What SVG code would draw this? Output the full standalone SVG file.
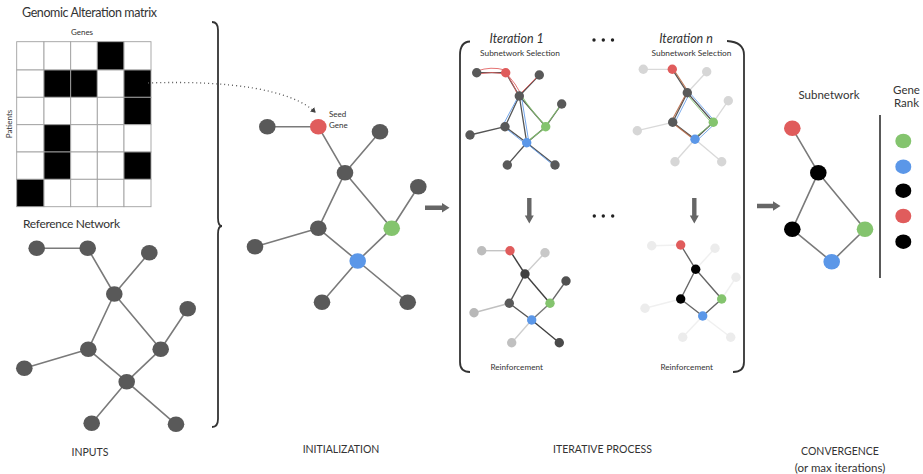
<svg xmlns="http://www.w3.org/2000/svg" width="923" height="474" viewBox="0 0 923 474">
<defs>
<style>
.t{font-family:Lato,"Open Sans","Liberation Sans",sans-serif;fill:#333}
.e{stroke:#7a7a7a;stroke-width:1.6;fill:none;stroke-linecap:round}
.n{fill:#595959}
.red{fill:#e05c5c}.grn{fill:#84c46e}.blu{fill:#5b97e8}.blk{fill:#000}
.lg{fill:#d6d6d6}.vlg{fill:#ececec}
.cell{fill:#fff;stroke:#a0a0a0;stroke-width:0.9}
.on{fill:#000;stroke:#a0a0a0;stroke-width:0.9}
.arr{fill:#666}
.brk{stroke:#333;stroke-width:1.8;fill:none}
</style>
<marker id="dotArr" markerWidth="6" markerHeight="6" refX="4" refY="3" orient="auto" markerUnits="userSpaceOnUse">
<path d="M0,0 L5,3 L0,6 Z" fill="#444"/>
</marker>
</defs>
<rect width="923" height="474" fill="#fff"/>

<!-- INPUTS: matrix -->
<g id="matrix">
<text class="t" x="22" y="17" font-size="12.5" textLength="135">Genomic Alteration matrix</text>
<text class="t" x="82" y="35" font-size="8" text-anchor="middle" fill="#555">Genes</text>
<text class="t" transform="translate(12,124) rotate(-90)" font-size="8" text-anchor="middle">Patients</text>
<g>
<rect class="cell" x="16.7" y="41.7" width="27.3" height="28.3"/><rect class="cell" x="44" y="41.7" width="26.7" height="28.3"/><rect class="cell" x="70.7" y="41.7" width="26.6" height="28.3"/><rect class="on" x="97.3" y="41.7" width="26.7" height="28.3"/><rect class="cell" x="124" y="41.7" width="27" height="28.3"/>
<rect class="cell" x="16.7" y="70" width="27.3" height="27.3"/><rect class="on" x="44" y="70" width="26.7" height="27.3"/><rect class="on" x="70.7" y="70" width="26.6" height="27.3"/><rect class="cell" x="97.3" y="70" width="26.7" height="27.3"/><rect class="on" x="124" y="70" width="27" height="27.3"/>
<rect class="cell" x="16.7" y="97.3" width="27.3" height="27.4"/><rect class="cell" x="44" y="97.3" width="26.7" height="27.4"/><rect class="cell" x="70.7" y="97.3" width="26.6" height="27.4"/><rect class="cell" x="97.3" y="97.3" width="26.7" height="27.4"/><rect class="on" x="124" y="97.3" width="27" height="27.4"/>
<rect class="cell" x="16.7" y="124.7" width="27.3" height="27.3"/><rect class="on" x="44" y="124.7" width="26.7" height="27.3"/><rect class="cell" x="70.7" y="124.7" width="26.6" height="27.3"/><rect class="cell" x="97.3" y="124.7" width="26.7" height="27.3"/><rect class="cell" x="124" y="124.7" width="27" height="27.3"/>
<rect class="cell" x="16.7" y="152" width="27.3" height="27.3"/><rect class="on" x="44" y="152" width="26.7" height="27.3"/><rect class="cell" x="70.7" y="152" width="26.6" height="27.3"/><rect class="cell" x="97.3" y="152" width="26.7" height="27.3"/><rect class="on" x="124" y="152" width="27" height="27.3"/>
<rect class="on" x="16.7" y="179.3" width="27.3" height="27.4"/><rect class="cell" x="44" y="179.3" width="26.7" height="27.4"/><rect class="cell" x="70.7" y="179.3" width="26.6" height="27.4"/><rect class="cell" x="97.3" y="179.3" width="26.7" height="27.4"/><rect class="cell" x="124" y="179.3" width="27" height="27.4"/>
</g>
</g>

<!-- Reference network -->
<text class="t" x="23" y="228" font-size="12" textLength="97">Reference Network</text>
<g id="ref-connectors">
<path class="e" d="M36.7,248.3 L87.7,248.3 M87.7,248.3 L114.3,294 M149.3,252.7 L114.3,294 M114.3,294 L88.3,349.3 M114.3,294 L160.7,349.3 M187.7,308.7 L160.7,349.3 M88.3,349.3 L24.3,368.3 M88.3,349.3 L126.7,381.7 M160.7,349.3 L126.7,381.7 M126.7,381.7 L91.7,423.3 M126.7,381.7 L176,424.3"/>
</g>
<g id="ref-nodes" class="n">
<g id="ref-a"><ellipse cx="36.7" cy="248.3" rx="8.3" ry="7.7"/></g>
<g id="ref-b"><ellipse cx="87.7" cy="248.3" rx="8.3" ry="7.7"/></g>
<g id="ref-c"><ellipse cx="149.3" cy="252.7" rx="8.3" ry="7.7"/></g>
<g id="ref-d"><ellipse cx="114.3" cy="294" rx="8.3" ry="7.7"/></g>
<g id="ref-e"><ellipse cx="187.7" cy="308.7" rx="8.3" ry="7.7"/></g>
<g id="ref-f"><ellipse cx="88.3" cy="349.3" rx="8.3" ry="7.7"/></g>
<g id="ref-g"><ellipse cx="160.7" cy="349.3" rx="8.3" ry="7.7"/></g>
<g id="ref-h"><ellipse cx="24.3" cy="368.3" rx="8.3" ry="7.7"/></g>
<g id="ref-i"><ellipse cx="126.7" cy="381.7" rx="8.3" ry="7.7"/></g>
<g id="ref-j"><ellipse cx="91.7" cy="423.3" rx="8.3" ry="7.7"/></g>
<g id="ref-k"><ellipse cx="176" cy="424.3" rx="8.3" ry="7.7"/></g>
</g>
<text class="t" x="90" y="455.5" font-size="10.5" text-anchor="middle">INPUTS</text>

<!-- brace -->
<path class="brk" d="M212,22 Q218,22 218,30 L218,218 Q218,226 222,226 Q218,226 218,234 L218,419 Q218,427 212,427"/>

<!-- Initialization -->
<g id="init-connectors">
<path class="e" d="M267.3,126.7 L318.3,126.7 M318.3,126.7 L345,172.7 M380,131.7 L345,172.7 M345,172.7 L318.3,228.3 M345,172.7 L391.7,228.3 M418.3,186.7 L391.7,228.3 M318.3,228.3 L255,246.7 M318.3,228.3 L357.7,261 M391.7,228.3 L357.7,261 M357.7,261 L322,302.3 M357.7,261 L407.7,302.3"/>
<path d="M148,83 C230,80 292,90 315,112" fill="none" stroke="#555" stroke-width="1.3" stroke-dasharray="1 3" marker-end="url(#dotArr)"/>
</g>
<g id="init-nodes">
<g id="init-a"><ellipse class="n" cx="267.3" cy="126.7" rx="8.3" ry="7.7"/></g>
<g id="init-seed"><ellipse class="red" cx="318.3" cy="126.7" rx="8.3" ry="7.7"/>
<text class="t" x="329" y="117" font-size="8">Seed</text><text class="t" x="329" y="127.5" font-size="8">Gene</text></g>
<g id="init-c"><ellipse class="n" cx="380" cy="131.7" rx="8.3" ry="7.7"/></g>
<g id="init-d"><ellipse class="n" cx="345" cy="172.7" rx="8.3" ry="7.7"/></g>
<g id="init-e"><ellipse class="n" cx="418.3" cy="186.7" rx="8.3" ry="7.7"/></g>
<g id="init-f"><ellipse class="n" cx="318.3" cy="228.3" rx="8.3" ry="7.7"/></g>
<g id="init-g"><ellipse class="grn" cx="391.7" cy="228.3" rx="8.3" ry="7.7"/></g>
<g id="init-h"><ellipse class="n" cx="255" cy="246.7" rx="8.3" ry="7.7"/></g>
<g id="init-i"><ellipse class="blu" cx="357.7" cy="261" rx="8.3" ry="7.7"/></g>
<g id="init-j"><ellipse class="n" cx="322" cy="302.3" rx="8.3" ry="7.7"/></g>
<g id="init-k"><ellipse class="n" cx="407.7" cy="302.3" rx="8.3" ry="7.7"/></g>
</g>
<text class="t" x="341" y="453" font-size="10.5" text-anchor="middle">INITIALIZATION</text>

<!-- arrows -->
<g id="arrows">
<path class="arr" d="M425,205.5 L442,205.5 L442,203 L449.5,207.7 L442,212.4 L442,209.9 L425,209.9 Z"/>
<path class="arr" d="M757,203.8 L773,203.8 L773,201.3 L780.5,206 L773,210.7 L773,208.2 L757,208.2 Z"/>
<path class="arr" d="M527.1,198 L527.1,215.5 L524.8,215.5 L529.3,223.5 L533.8,215.5 L531.5,215.5 L531.5,198 Z"/>
<path class="arr" d="M692.1,198 L692.1,215.5 L689.8,215.5 L694.3,223.5 L698.8,215.5 L696.5,215.5 L696.5,198 Z"/>
</g>

<!-- iterative brackets -->
<path class="brk" d="M470,41.5 Q460,42 460,55 L460,362 Q460,372 470,372"/>
<path class="brk" d="M727,41 Q744,42 744,55 L744,362 Q744,372 733,372"/>
<text class="t" x="516.7" y="42.5" font-size="12.5" font-style="italic" text-anchor="middle">Iteration 1</text>
<text class="t" x="686" y="42.5" font-size="12.5" font-style="italic" text-anchor="middle">Iteration n</text>
<text class="t" x="520" y="56" font-size="8.3" text-anchor="middle">Subnetwork Selection</text>
<text class="t" x="691.5" y="56" font-size="8.3" text-anchor="middle">Subnetwork Selection</text>
<g fill="#222">
<circle cx="594" cy="40" r="1.7"/><circle cx="603.3" cy="40" r="1.7"/><circle cx="612.5" cy="40" r="1.7"/>
<circle cx="594.3" cy="216" r="1.7"/><circle cx="603.3" cy="216" r="1.7"/><circle cx="612.7" cy="216" r="1.7"/>
</g>

<!-- Iteration 1: selection -->
<g id="it1s-connectors">
<path d="M476.7,72.7 L505.7,72.7 M505.7,72.7 L519.3,96 M539.3,75 L519.3,96 M519.3,96 L505,126.7 M519.3,96 L545.7,126.7 M561.7,104 L545.7,126.7 M505,126.7 L470,135 M505,126.7 L526.7,142.7 M545.7,126.7 L526.7,142.7 M526.7,142.7 L507.3,165 M526.7,142.7 L555,165 M519.3,96 L526.7,142.7" stroke="#555" stroke-width="1.3" fill="none"/>
<path d="M477,71 Q491,66 505,70 M477,74 Q492,71 506,74 M504,71 Q514,84 517.5,95 M507,74 Q516,84 521,94 M520,94 L538,76" stroke="#e05c5c" stroke-width="1" fill="none" opacity="0.85"/>
<path d="M517.5,98 L503,125 M506,128.5 L527,145 M528,144.5 L555,166.5 M521.5,97 L528.5,140" stroke="#5b97e8" stroke-width="1" fill="none" opacity="0.85"/>
<path d="M521,95 Q532,112 545,125 M546.5,125 L562.5,102.5 M528,141 L545,128" stroke="#84c46e" stroke-width="1.1" fill="none" opacity="0.9"/>
</g>
<g id="it1s-nodes">
<g id="it1s-a"><circle class="n" cx="476.7" cy="72.7" r="4.7"/></g>
<g id="it1s-r"><circle class="red" cx="505.7" cy="72.7" r="4.7"/></g>
<g id="it1s-c"><circle class="n" cx="539.3" cy="75" r="4.7"/></g>
<g id="it1s-d"><circle class="n" cx="519.3" cy="96" r="4.7"/></g>
<g id="it1s-e"><circle class="n" cx="561.7" cy="104" r="4.7"/></g>
<g id="it1s-f"><circle class="n" cx="505" cy="126.7" r="4.7"/></g>
<g id="it1s-g"><circle class="grn" cx="545.7" cy="126.7" r="4.7"/></g>
<g id="it1s-h"><circle class="n" cx="470" cy="135" r="4.7"/></g>
<g id="it1s-i"><circle class="blu" cx="526.7" cy="142.7" r="4.7"/></g>
<g id="it1s-j"><circle class="n" cx="507.3" cy="165" r="4.7"/></g>
<g id="it1s-k"><circle class="n" cx="555" cy="165" r="4.7"/></g>
</g>

<!-- Iteration n: selection -->
<g id="itns-connectors">
<path d="M643.3,69.3 L672.3,69.3 M706.7,71.7 L687.3,92.7 M728.3,100.7 L713.3,122.3 M672.7,122.3 L637.3,130.7 M695,139.3 L675,161.7 M695,139.3 L721.7,161.7" stroke="#d9d9d9" stroke-width="1.3" fill="none"/>
<path d="M672.3,69.3 L687.3,92.7 M687.3,92.7 L672.7,122.3 M687.3,92.7 L713.3,122.3 M672.7,122.3 L695,139.3 M713.3,122.3 L695,139.3" stroke="#555" stroke-width="1.3" fill="none"/>
<path d="M674,70 L689,93 M686,94 L671.5,121 M674,124 L696,141" stroke="#b5653f" stroke-width="1.1" fill="none" opacity="0.85"/>
<path d="M688.5,91.5 L714.5,121 M689,94.5 L674.5,123 M714.5,124 L696.5,141" stroke="#5b97e8" stroke-width="1" fill="none" opacity="0.8"/>
<path d="M686.5,94 L712,123.5 M712,124 L694,138" stroke="#84c46e" stroke-width="1" fill="none" opacity="0.85"/>
</g>
<g id="itns-nodes">
<g id="itns-a"><circle class="lg" cx="643.3" cy="69.3" r="4.7"/></g>
<g id="itns-r"><circle class="red" cx="672.3" cy="69.3" r="4.7"/></g>
<g id="itns-c"><circle class="lg" cx="706.7" cy="71.7" r="4.7"/></g>
<g id="itns-d"><circle class="n" cx="687.3" cy="92.7" r="4.7"/></g>
<g id="itns-e"><circle class="lg" cx="728.3" cy="100.7" r="4.7"/></g>
<g id="itns-f"><circle class="n" cx="672.7" cy="122.3" r="4.7"/></g>
<g id="itns-g"><circle class="grn" cx="713.3" cy="122.3" r="4.7"/></g>
<g id="itns-h"><circle class="lg" cx="637.3" cy="130.7" r="4.7"/></g>
<g id="itns-i"><circle class="blu" cx="695" cy="139.3" r="4.7"/></g>
<g id="itns-j"><circle class="lg" cx="675" cy="161.7" r="4.7"/></g>
<g id="itns-k"><circle class="lg" cx="721.7" cy="161.7" r="4.7"/></g>
</g>

<!-- Iteration 1: reinforcement -->
<g id="it1r-connectors" stroke-width="1.4" fill="none">
<path d="M481.7,250.7 L510,250.7" stroke="#c4c4c4"/>
<path d="M510,250.7 L525,274" stroke="#404040"/>
<path d="M545,252.7 L525,274" stroke="#cdcdcd"/>
<path d="M525,274 L509.3,303.3" stroke="#555"/>
<path d="M525,274 L550,303.3" stroke="#404040"/>
<path d="M566,281 L550,303.3" stroke="#666"/>
<path d="M509.3,303.3 L474,312.7" stroke="#c0c0c0"/>
<path d="M509.3,303.3 L531.7,320" stroke="#555"/>
<path d="M550,303.3 L531.7,320" stroke="#777"/>
<path d="M531.7,320 L511.7,342.7" stroke="#cfcfcf"/>
<path d="M531.7,320 L559.3,342.7" stroke="#404040"/>
</g>
<g id="it1r-nodes">
<g id="it1r-a"><circle fill="#bdbdbd" cx="481.7" cy="250.7" r="4.7"/></g>
<g id="it1r-r"><circle class="red" cx="510" cy="250.7" r="4.7"/></g>
<g id="it1r-c"><circle fill="#c8c8c8" cx="545" cy="252.7" r="4.7"/></g>
<g id="it1r-d"><circle fill="#404040" cx="525" cy="274" r="4.7"/></g>
<g id="it1r-e"><circle fill="#505050" cx="566" cy="281" r="4.7"/></g>
<g id="it1r-f"><circle fill="#5a5a5a" cx="509.3" cy="303.3" r="4.7"/></g>
<g id="it1r-g"><circle class="grn" cx="550" cy="303.3" r="4.7"/></g>
<g id="it1r-h"><circle fill="#b8b8b8" cx="474" cy="312.7" r="4.7"/></g>
<g id="it1r-i"><circle class="blu" cx="531.7" cy="320" r="4.7"/></g>
<g id="it1r-j"><circle fill="#c0c0c0" cx="511.7" cy="342.7" r="4.7"/></g>
<g id="it1r-k"><circle fill="#4a4a4a" cx="559.3" cy="342.7" r="4.7"/></g>
</g>
<text class="t" x="516.7" y="370" font-size="8.2" text-anchor="middle">Reinforcement</text>

<!-- Iteration n: reinforcement -->
<g id="itnr-connectors" stroke-width="1.4" fill="none">
<path d="M651.7,245.7 L680.7,245 M715,248.3 L695.7,269.3 M736,277.3 L721.7,299 M680.7,299 L645,308.3 M702.7,316 L682.7,337.3 M702.7,316 L730.7,337.3" stroke="#f0f0f0"/>
<path d="M680.7,245 L695.7,269.3 M695.7,269.3 L680.7,299 M695.7,269.3 L721.7,299 M680.7,299 L702.7,316 M721.7,299 L702.7,316" stroke="#666"/>
</g>
<g id="itnr-nodes">
<g id="itnr-a"><circle class="vlg" cx="651.7" cy="245.7" r="4.7"/></g>
<g id="itnr-r"><circle class="red" cx="680.7" cy="245" r="4.7"/></g>
<g id="itnr-c"><circle class="vlg" cx="715" cy="248.3" r="4.7"/></g>
<g id="itnr-d"><circle class="blk" cx="695.7" cy="269.3" r="4.7"/></g>
<g id="itnr-e"><circle class="vlg" cx="736" cy="277.3" r="4.7"/></g>
<g id="itnr-f"><circle class="blk" cx="680.7" cy="299" r="4.7"/></g>
<g id="itnr-g"><circle class="grn" cx="721.7" cy="299" r="4.7"/></g>
<g id="itnr-h"><circle class="vlg" cx="645" cy="308.3" r="4.7"/></g>
<g id="itnr-i"><circle class="blu" cx="702.7" cy="316" r="4.7"/></g>
<g id="itnr-j"><circle class="vlg" cx="682.7" cy="337.3" r="4.7"/></g>
<g id="itnr-k"><circle class="vlg" cx="730.7" cy="337.3" r="4.7"/></g>
</g>
<text class="t" x="686.7" y="370" font-size="8.2" text-anchor="middle">Reinforcement</text>
<text class="t" x="602.5" y="453" font-size="10.5" text-anchor="middle">ITERATIVE PROCESS</text>

<!-- Convergence -->
<text class="t" x="829" y="98.5" font-size="11.5" text-anchor="middle">Subnetwork</text>
<g id="conv-connectors">
<path class="e" d="M792.3,128.3 L818.3,172.7 M818.3,172.7 L792.3,229.3 M818.3,172.7 L865,229.3 M792.3,229.3 L831.7,261.7 M865,229.3 L831.7,261.7"/>
</g>
<g id="conv-nodes">
<g id="conv-r"><ellipse class="red" cx="792.3" cy="128.3" rx="8.3" ry="7.7"/></g>
<g id="conv-d"><ellipse class="blk" cx="818.3" cy="172.7" rx="8.3" ry="7.7"/></g>
<g id="conv-f"><ellipse class="blk" cx="792.3" cy="229.3" rx="8.3" ry="7.7"/></g>
<g id="conv-g"><ellipse class="grn" cx="865" cy="229.3" rx="8.3" ry="7.7"/></g>
<g id="conv-b"><ellipse class="blu" cx="831.7" cy="261.7" rx="8.3" ry="7.7"/></g>
</g>
<line x1="880" y1="115" x2="880" y2="278" stroke="#222" stroke-width="1.5"/>
<text class="t" x="906.5" y="93.5" font-size="11.5" text-anchor="middle">Gene</text>
<text class="t" x="906.5" y="107" font-size="11.5" text-anchor="middle">Rank</text>
<g id="rank">
<g id="rank-1"><ellipse class="grn" cx="903.3" cy="141" rx="8" ry="7.3"/></g>
<g id="rank-2"><ellipse class="blu" cx="903.3" cy="166.7" rx="8" ry="7.3"/></g>
<g id="rank-3"><ellipse class="blk" cx="903.3" cy="190.7" rx="8" ry="7.3"/></g>
<g id="rank-4"><ellipse class="red" cx="903.3" cy="216" rx="8" ry="7.3"/></g>
<g id="rank-5"><ellipse class="blk" cx="903.3" cy="241.7" rx="8" ry="7.3"/></g>
</g>
<text class="t" x="840" y="455" font-size="10.5" text-anchor="middle">CONVERGENCE</text>
<text class="t" x="840" y="471.5" font-size="11.5" text-anchor="middle">(or max iterations)</text>
</svg>
